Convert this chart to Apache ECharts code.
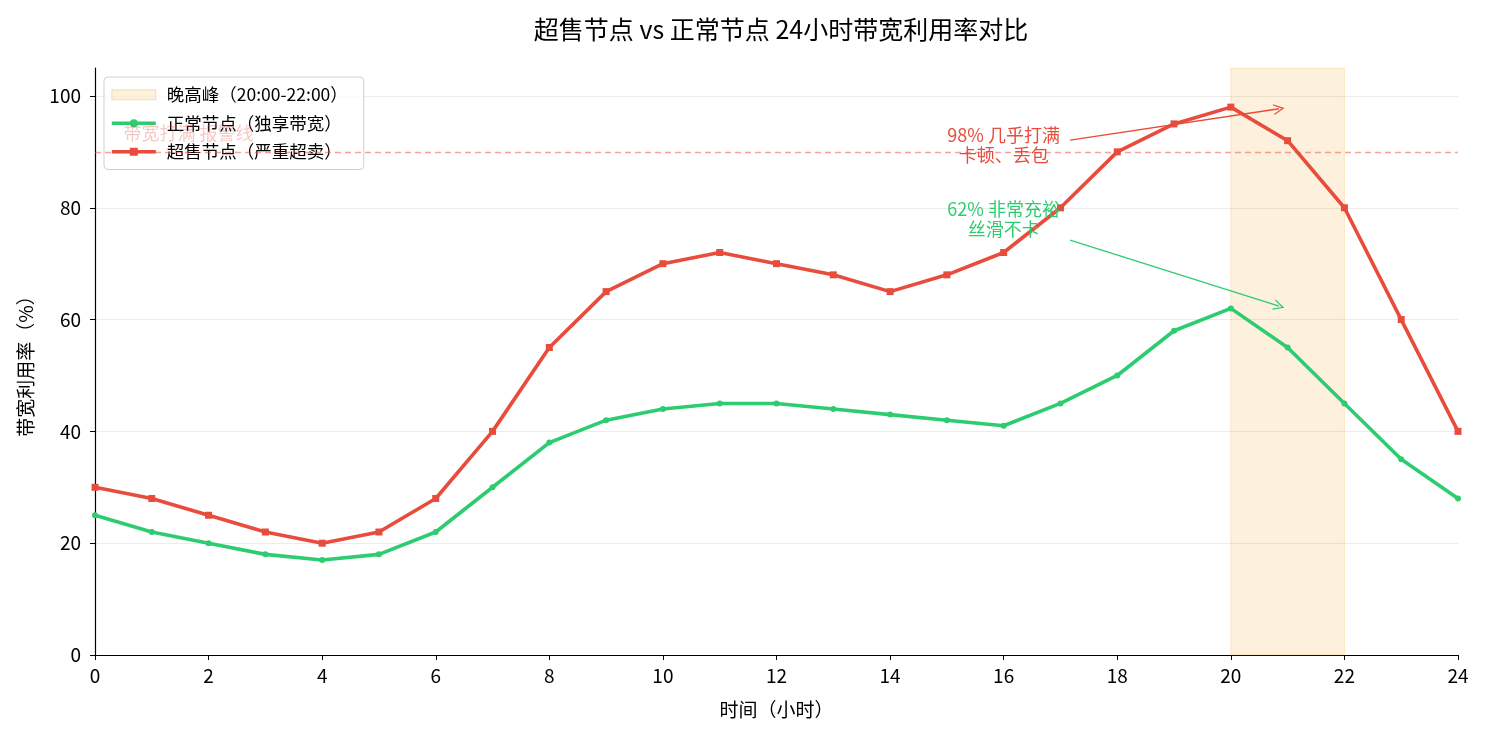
<!DOCTYPE html>
<html style="height: 100%">

<head>
    <meta charset="UTF-8" />
    <script type="text/javascript" src="https://cdn.jsdelivr.net/npm/echarts@6.0.0/dist/echarts.min.js"></script>
</head>

<body style="height: 100%; margin: 0; background: #fff">
    <div id="container" style="height: 100%"></div>
    <script>
        // data
        var hours = [0, 1, 2, 3, 4, 5, 6, 7, 8, 9, 10, 11, 12, 13, 14, 15, 16, 17, 18, 19, 20, 21, 22, 23, 24];
        var normalUsage = [25, 22, 20, 18, 17, 18, 22, 30, 38, 42, 44, 45, 45, 44, 43, 42, 41, 45, 50, 58, 62, 55, 45, 35, 28];
        var oversoldUsage = [30, 28, 25, 22, 20, 22, 28, 40, 55, 65, 70, 72, 70, 68, 65, 68, 72, 80, 90, 95, 98, 92, 80, 60, 40];
        var yTicks = [0, 20, 40, 60, 80, 100];
        var peakRange = [20, 22];
        var alarmLevel = 90;

        var GREEN = '#2ecc71';
        var RED = '#e74c3c';
        var FONT = '"Noto Sans CJK SC", "Noto Sans", sans-serif';
        // open arrow head, tip pointing up (markLine rotates it)
        var OPEN_ARROW = 'path://M0,10 L5,0 L10,10 L8.7,10 L5,2.6 L1.3,10 Z';

        var dom = document.getElementById("container");
        var chart = echarts.init(dom);

        function pairs(ys) {
            return hours.map(function (h, i) { return [h, ys[i]]; });
        }

        function note(coord, text, color, fontSize, align) {
            return {
                coord: coord,
                symbol: 'circle', symbolSize: 1,
                itemStyle: { color: 'rgba(0,0,0,0)' },
                label: {
                    show: true, formatter: text, position: 'inside', align: align,
                    fontSize: fontSize, lineHeight: 20, color: color, fontFamily: FONT
                }
            };
        }

        function arrow(from, to, color) {
            return {
                silent: true,
                symbol: ['none', OPEN_ARROW], symbolSize: 11,
                label: { show: false },
                lineStyle: { color: color, type: 'solid', width: 1.4 },
                data: [[{ coord: from }, { coord: to }]]
            };
        }

        var peakName = '晚高峰（20:00-22:00）';

        var option = {
            animation: false,
            textStyle: { fontFamily: FONT },
            title: {
                text: '超售节点 vs 正常节点 24小时带宽利用率对比',
                left: 776, textAlign: 'center', top: 12,
                textStyle: { fontSize: 25, fontWeight: 'normal', color: '#000', fontFamily: FONT }
            },
            grid: { left: 95, right: 27, top: 68, bottom: 80 },
            legend: {
                orient: 'vertical', left: 104, top: 77,
                padding: [9, 16, 9, 6], itemGap: 11,
                itemWidth: 44, itemHeight: 10,
                backgroundColor: 'rgba(255,255,255,0.8)',
                borderColor: '#d0d0d0', borderWidth: 1, borderRadius: 4,
                lineStyle: { width: 3.6 },
                textStyle: { fontSize: 17.5, color: '#000', fontFamily: FONT, padding: [0, 0, 0, 6] },
                data: [
                    { name: peakName, icon: 'rect', itemStyle: { color: 'rgba(243,156,18,0.15)', borderColor: 'rgba(243,156,18,0.3)', borderWidth: 1 } },
                    { name: '正常节点（独享带宽）' },
                    { name: '超售节点（严重超卖）' }
                ]
            },
            xAxis: {
                type: 'value', min: 0, max: 24, interval: 2,
                name: '时间（小时）', nameLocation: 'middle', nameGap: 45,
                nameTextStyle: { fontSize: 19, color: '#000' },
                axisLine: { lineStyle: { color: '#000', width: 1.2 } },
                axisTick: { show: true, length: 5, lineStyle: { color: '#000' } },
                axisLabel: { fontSize: 19, color: '#000', margin: 11 },
                splitLine: { show: false }
            },
            yAxis: {
                type: 'value', min: 0, max: 105, interval: 20,
                name: '带宽利用率（%）', nameLocation: 'middle', nameGap: 60, nameRotate: 90,
                nameTextStyle: { fontSize: 19, color: '#000' },
                axisLine: { show: true, lineStyle: { color: '#000', width: 1.2 } },
                axisTick: { show: true, length: 5, lineStyle: { color: '#000' }, customValues: yTicks },
                axisLabel: { fontSize: 19, color: '#000', margin: 14, customValues: yTicks },
                splitLine: {
                    show: true,
                    lineStyle: { color: ['#ececec', '#ececec', '#ececec', '#ececec', '#ececec', '#ececec', 'rgba(0,0,0,0)'], width: 1.2 }
                }
            },
            series: [
                {
                    name: peakName,
                    type: 'line',
                    data: [],
                    markArea: {
                        silent: true,
                        itemStyle: { color: 'rgba(243,156,18,0.15)', borderColor: 'rgba(243,156,18,0.2)', borderWidth: 1 },
                        data: [[{ xAxis: peakRange[0] }, { xAxis: peakRange[1] }]]
                    },
                    markLine: {
                        silent: true,
                        symbol: 'none',
                        label: { show: false },
                        lineStyle: { color: 'rgba(231,76,60,0.5)', type: [6, 4], width: 1.3 },
                        data: [{ yAxis: alarmLevel }]
                    },
                    markPoint: {
                        silent: true,
                        data: [note([0.5, 93.3], '带宽打满 报警线', 'rgba(231,76,60,0.3)', 18, 'left')]
                    }
                },
                {
                    name: '正常节点（独享带宽）',
                    type: 'line',
                    z: 3,
                    data: pairs(normalUsage),
                    symbol: 'circle', symbolSize: 6,
                    lineStyle: { color: GREEN, width: 3.6 },
                    itemStyle: { color: GREEN },
                    markLine: arrow([17.17, 74.2], [20.85, 62.4], GREEN),
                    markPoint: {
                        silent: true,
                        data: [note([16, 77.9], '62% 非常充裕\n丝滑不卡', GREEN, 18, 'center')]
                    }
                },
                {
                    name: '超售节点（严重超卖）',
                    type: 'line',
                    z: 3,
                    data: pairs(oversoldUsage),
                    symbol: 'rect', symbolSize: 7,
                    lineStyle: { color: RED, width: 3.6 },
                    itemStyle: { color: RED },
                    markLine: arrow([17.17, 92.1], [20.85, 97.7], RED),
                    markPoint: {
                        silent: true,
                        data: [note([16, 91.2], '98% 几乎打满\n卡顿、丢包', RED, 18, 'center')]
                    }
                }
            ]
        };

        chart.setOption(option);
    </script>
</body>

</html>
